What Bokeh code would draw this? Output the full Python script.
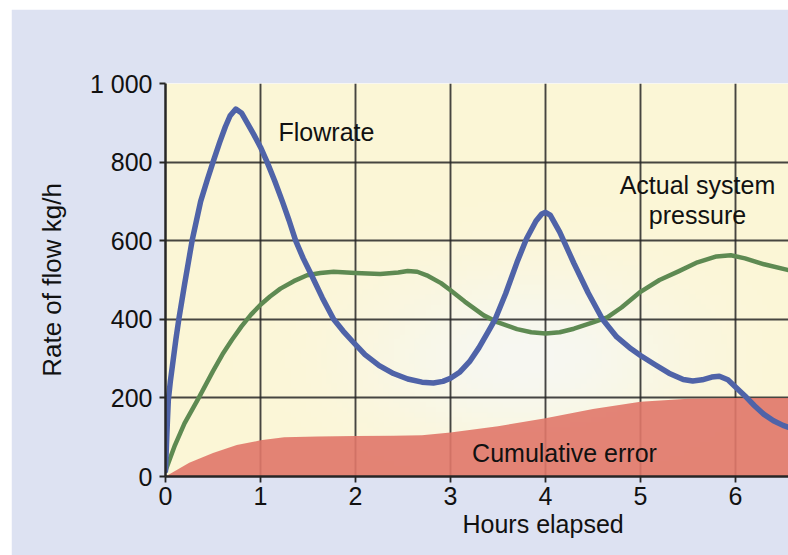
import numpy as np
from bokeh.plotting import figure
from bokeh.models import FixedTicker, Label, Title
from bokeh.embed import file_html
from bokeh.resources import INLINE

# ---- data ----
hours_flow = [0, 0.01, 0.02, 0.03, 0.05, 0.08, 0.11, 0.14, 0.20, 0.28, 0.37, 0.44, 0.50,
              0.57, 0.63, 0.68, 0.74, 0.80, 0.86, 0.93, 1.00, 1.07, 1.15, 1.23, 1.30,
              1.37, 1.45, 1.53, 1.65, 1.77, 1.87, 1.96, 2.10, 2.25, 2.40, 2.55, 2.70,
              2.82, 2.92, 3.00, 3.10, 3.20, 3.30, 3.40, 3.47, 3.58, 3.70, 3.80, 3.90,
              3.96, 4.00, 4.05, 4.15, 4.30, 4.45, 4.60, 4.75, 4.90, 5.00, 5.15, 5.30,
              5.45, 5.55, 5.65, 5.75, 5.83, 5.92, 6.00, 6.10, 6.20, 6.30, 6.40, 6.50,
              6.56]
flowrate = [15, 80, 140, 195, 240, 295, 350, 400, 488, 600, 700, 755, 800,
            850, 890, 918, 935, 925, 900, 870, 838, 800, 752, 700, 652,
            600, 555, 516, 455, 400, 370, 346, 310, 282, 262, 248, 240,
            238, 242, 250, 266, 292, 328, 370, 400, 465, 545, 605, 650,
            668, 672, 665, 622, 542, 467, 400, 355, 325, 308, 285, 263,
            247, 243, 246, 253, 255, 246, 228, 205, 180, 158, 142, 130,
            125]

hours_press = [0, 0.10, 0.20, 0.35, 0.50, 0.60, 0.70, 0.80, 0.90, 1.00, 1.10, 1.21,
               1.35, 1.49, 1.63, 1.77, 2.00, 2.26, 2.45, 2.55, 2.65, 2.75, 2.90, 3.00,
               3.15, 3.35, 3.50, 3.70, 3.85, 4.00, 4.15, 4.30, 4.50, 4.65, 4.80, 5.00,
               5.20, 5.40, 5.60, 5.80, 5.95, 6.10, 6.30, 6.56]
pressure = [15, 80, 135, 200, 268, 311, 348, 382, 412, 437, 458, 478,
            497, 512, 518, 521, 518, 515, 519, 523, 521, 512, 492, 474,
            445, 410, 392, 375, 367, 364, 367, 376, 392, 405, 430, 470,
            500, 522, 545, 560, 563, 555, 540, 525]

hours_err = [0, 0.25, 0.5, 0.75, 1.0, 1.25, 1.6, 2.0, 2.4, 2.7, 3.0, 3.5, 4.0,
             4.5, 5.0, 5.5, 6.0, 6.56]
cum_error = [0, 35, 60, 80, 92, 100, 102, 103, 104, 105, 112, 128, 148,
             172, 190, 198, 200, 200]

y_ticks = [0, 200, 400, 600, 800, 1000]
x_ticks = [0, 1, 2, 3, 4, 5, 6]

FONT = "Liberation Sans"
X_MAX = 6.558

p = figure(width=777, height=546, x_range=(0, X_MAX), y_range=(0, 1000),
           output_backend="svg", toolbar_location=None,
           min_border_left=154, min_border_right=0, min_border_top=74,
           min_border_bottom=79, margin=(9, 0, 0, 11))
p.border_fill_color = "#dde2f2"
p.outline_line_color = None

# soft background (pale yellow with a lighter centre)
nx, ny = 120, 80
gx = np.linspace(0, X_MAX, nx)
gy = np.linspace(0, 1000, ny)
GX, GY = np.meshgrid(gx, gy)
w = np.exp(-((GX - 3.8) / 1.7) ** 2 - ((GY - 300) / 220) ** 2)
yellow = np.array([252, 246, 214])
white = np.array([247, 248, 242])
img = np.empty((ny, nx), dtype=np.uint32)
view = img.view(dtype=np.uint8).reshape((ny, nx, 4))
for c in range(3):
    view[:, :, c] = (yellow[c] * (1 - w) + white[c] * w).astype(np.uint8)
view[:, :, 3] = 255
p.image_rgba(image=[img], x=0, y=0, dw=X_MAX, dh=1000, level="image")

# grid
p.xgrid.ticker = FixedTicker(ticks=x_ticks)
p.ygrid.ticker = FixedTicker(ticks=y_ticks)
p.grid.grid_line_color = "#262626"
p.grid.grid_line_width = 1.9
p.grid.grid_line_alpha = 0.85
p.grid.level = "underlay"

# cumulative error area
p.varea(x=hours_err, y1=0, y2=cum_error, fill_color="#e07769", fill_alpha=0.9)

# curves
p.line(hours_press, pressure, line_color="#5e8a52", line_width=4.5,
       line_join="round", line_cap="round")
p.line(hours_flow, flowrate, line_color="#4f63a8", line_width=5.5,
       line_join="round", line_cap="round")

# axes
p.xaxis.ticker = FixedTicker(ticks=x_ticks)
p.yaxis.ticker = FixedTicker(ticks=y_ticks)
p.yaxis.major_label_overrides = {1000: "1 000"}
for ax in (p.xaxis, p.yaxis):
    ax.axis_line_color = "#262626"
    ax.axis_line_width = 2.5
    ax.major_tick_line_color = "#262626"
    ax.major_tick_line_width = 1.8
    ax.major_tick_in = 0
    ax.major_tick_out = 6
    ax.minor_tick_line_color = None
    ax.major_label_text_font = FONT
    ax.major_label_text_font_size = "25px"
    ax.major_label_text_color = "#111111"
p.xaxis.major_label_standoff = 4
p.yaxis.major_label_standoff = 7
p.yaxis.axis_label = "Rate of flow kg/h"
p.yaxis.axis_label_text_font = FONT
p.yaxis.axis_label_text_font_size = "26px"
p.yaxis.axis_label_text_font_style = "normal"
p.yaxis.axis_label_text_color = "#111111"
p.yaxis.axis_label_standoff = 20

# x axis title, placed under the tick labels
p.add_layout(Title(text="Hours elapsed", align="left", offset=297,
                   text_font=FONT, text_font_size="25px",
                   text_font_style="normal", text_color="#111111",
                   standoff=0), "below")

# annotations
for (tx, ty, t, al) in [(1.19, 876, "Flowrate", "left"),
                        (5.6, 743, "Actual system", "center"),
                        (5.6, 666, "pressure", "center"),
                        (4.2, 59, "Cumulative error", "center")]:
    p.add_layout(Label(x=tx, y=ty, text=t, text_font=FONT, text_font_size="25px",
                       text_color="#111111", text_align=al, text_baseline="middle"))

open("out.html", "w").write(file_html(p, INLINE))
